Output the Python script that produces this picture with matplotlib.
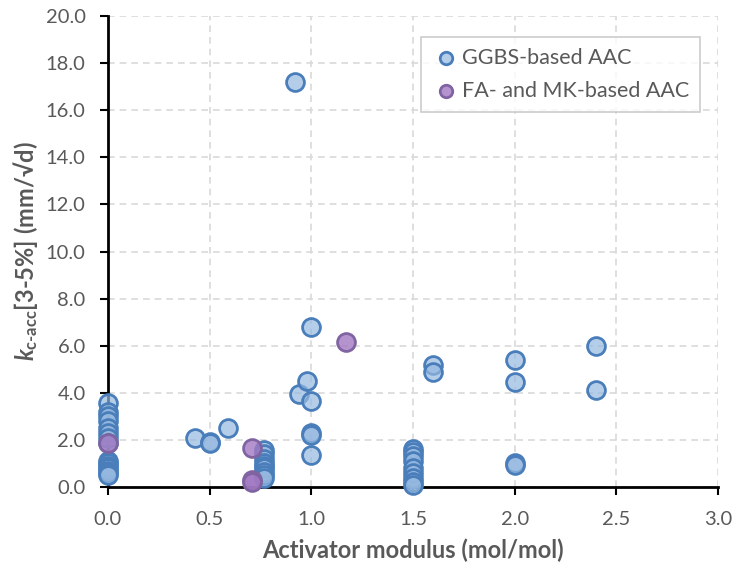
import numpy as np
import matplotlib.pyplot as plt

# GGBS-based AAC
ggbs_x = [0.0, 0.0, 0.0, 0.0, 0.0, 0.0, 0.0, 0.0, 0.0, 0.0, 0.0, 0.0, 0.0, 0.0, 0.0,
          0.43, 0.5, 0.5, 0.59,
          0.77, 0.77, 0.77, 0.77, 0.77, 0.77, 0.77, 0.77, 0.77,
          0.92, 0.94, 0.98, 1.0, 1.0, 1.0, 1.0, 1.0,
          1.5, 1.5, 1.5, 1.5, 1.5, 1.5, 1.5, 1.5, 1.5,
          1.6, 1.6, 2.0, 2.0, 2.0, 2.0, 2.4, 2.4]
ggbs_y = [3.55, 3.2, 3.0, 2.8, 2.5, 2.3, 2.1, 1.85, 1.1, 1.0, 0.9, 0.8, 0.7, 0.6, 0.5,
          2.1, 1.9, 1.85, 2.5,
          1.55, 1.4, 1.2, 1.0, 0.9, 0.8, 0.65, 0.5, 0.4,
          17.2, 3.95, 4.5, 6.8, 3.65, 2.3, 2.2, 1.35,
          1.6, 1.5, 1.3, 1.1, 0.8, 0.6, 0.4, 0.2, 0.1,
          5.2, 4.9, 5.4, 4.45, 1.0, 0.95, 6.0, 4.1]

# FA- and MK-based AAC
fa_x = [0.0, 0.71, 0.71, 0.71, 1.17]
fa_y = [1.85, 1.65, 0.3, 0.2, 6.15]

plt.rcParams['font.family'] = ['Lato', 'DejaVu Sans']
plt.rcParams['mathtext.fontset'] = 'custom'
plt.rcParams['mathtext.it'] = 'Lato:italic:bold'
plt.rcParams['mathtext.rm'] = 'Lato:bold'
plt.rcParams['mathtext.bf'] = 'Lato:bold'

fig = plt.figure(figsize=(7.39, 5.72), dpi=100)
ax = fig.add_axes([0.146, 0.1486, 0.8256, 0.8234])

ax.scatter(ggbs_x, ggbs_y, s=165, facecolor=(0.58, 0.72, 0.88, 0.7),
           edgecolor='#4a7ebb', linewidth=2, zorder=3, clip_on=False,
           label='GGBS-based AAC')
ax.scatter(fa_x, fa_y, s=165, facecolor=(0.63, 0.47, 0.76, 0.8),
           edgecolor='#8064a2', linewidth=2, zorder=4, clip_on=False,
           label='FA- and MK-based AAC')

ax.set_xlim(0, 3.0)
ax.set_ylim(0, 20.0)
ax.set_xticks(np.arange(0, 3.01, 0.5))
ax.set_yticks(np.arange(0, 20.01, 2.0))
ax.xaxis.set_major_formatter(plt.FormatStrFormatter('%.1f'))
ax.yaxis.set_major_formatter(plt.FormatStrFormatter('%.1f'))
ax.grid(True, color='#d9d9d9', ls=(0, (4, 3)), lw=1.2, zorder=0)
ax.set_axisbelow(True)
for s in ['top', 'right']:
    ax.spines[s].set_visible(False)
for s in ['left', 'bottom']:
    ax.spines[s].set_linewidth(2)
    ax.spines[s].set_color('black')
ax.tick_params(direction='out', length=6, width=1.5, colors='black',
               labelcolor='#595959', labelsize=14.5)
ax.tick_params(axis='x', pad=11)
ax.tick_params(axis='y', pad=10)

ax.set_xlabel('Activator modulus (mol/mol)', fontsize=17, fontweight='bold',
              color='#595959', labelpad=8)
ax.set_ylabel(r'$\mathit{k}_{\mathrm{c}\text{-}\mathrm{acc}}$[3-5%] (mm/' + '\u221ad)',
              fontsize=17, fontweight='bold', color='#595959', labelpad=4)

leg = ax.legend(loc='upper right', bbox_to_anchor=(0.988, 0.978), fontsize=15.5,
                frameon=True, fancybox=False, edgecolor='#bfbfbf',
                handletextpad=0.1, borderpad=0.5, labelspacing=0.6,
                markerscale=0.7, handlelength=1.3)
leg.get_frame().set_linewidth(1.2)
for t in leg.get_texts():
    t.set_color('#595959')

fig.savefig('out.png', dpi=100)
